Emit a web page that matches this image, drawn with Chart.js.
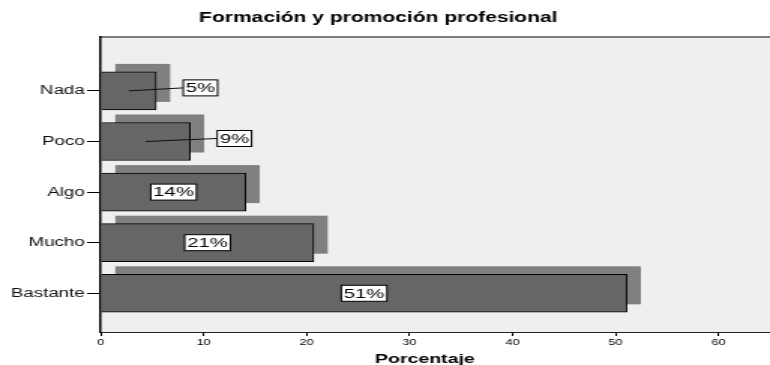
<!DOCTYPE html>
<html>
<head>
<meta charset="utf-8">
<script src="https://cdn.jsdelivr.net/npm/chart.js@4/dist/chart.umd.min.js"></script>
<style>
  html, body { margin: 0; padding: 0; background: #fff; overflow: hidden; }
  /* chart is laid out narrow and stretched sideways, like the exported original */
  #wrap { width: 513px; height: 365px; transform: scaleX(1.501); transform-origin: 0 0; }
</style>
</head>
<body>
<div id="wrap"><canvas id="myChart" width="513" height="365"></canvas></div>
<script>
var categories = ["Nada", "Poco", "Algo", "Mucho", "Bastante"];
var percentages = [5.4, 8.7, 14.1, 20.7, 51.1];
var xTicks = [0, 10, 20, 30, 40, 50, 60];
var chartTitle = "Formación y promoción profesional";
var axisTitle = "Porcentaje";

var FONT = '"Liberation Sans", Arial, Helvetica, sans-serif';
var SHADOW_DX = 9.3, SHADOW_DY = -8;

var panel = {
    id: 'panel',
    beforeDraw: function(chart) {
        var a = chart.chartArea, ctx = chart.ctx;
        ctx.save();
        ctx.fillStyle = '#efefef';
        ctx.fillRect(a.left, a.top, a.right - a.left, a.bottom - a.top);
        ctx.strokeStyle = '#555';
        ctx.lineWidth = 1.5;
        ctx.beginPath();
        ctx.moveTo(a.left, a.top);
        ctx.lineTo(a.right, a.top);
        ctx.stroke();

        ctx.fillStyle = '#000';
        ctx.textAlign = 'center';
        ctx.textBaseline = 'alphabetic';
        ctx.font = 'bold 14px ' + FONT;
        ctx.fillText(chartTitle, chart.width / 2 - 4.5, 22);
        ctx.font = 'bold 13px ' + FONT;
        ctx.fillText(axisTitle, (a.left + a.right) / 2 - 7, 362.5);
        ctx.restore();
    },
    beforeDatasetsDraw: function(chart) {
        // flat offset copy of each bar behind it
        var ctx = chart.ctx;
        ctx.save();
        ctx.fillStyle = '#808080';
        chart.getDatasetMeta(0).data.forEach(function(bar) {
            var p = bar.getProps(['x', 'y', 'base', 'height'], true);
            ctx.fillRect(p.base + SHADOW_DX, p.y - p.height / 2 + SHADOW_DY, p.x - p.base, p.height);
        });
        ctx.restore();
    },
    afterDatasetsDraw: function(chart) {
        var ctx = chart.ctx;
        ctx.save();
        ctx.font = '13.5px ' + FONT;
        ctx.textBaseline = 'middle';
        ctx.textAlign = 'center';
        chart.getDatasetMeta(0).data.forEach(function(bar, i) {
            var p = bar.getProps(['x', 'y', 'base', 'height'], true);
            var text = Math.round(percentages[i]) + '%';
            var w = ctx.measureText(text).width + 3.4, h = 16;
            var mid = (p.base + p.x) / 2;
            var cx = mid, cy = p.y;
            if (percentages[i] < 10) {
                // small bars get the label outside with a leader line
                cx = p.x + 18 + w / 2;
                cy = p.y - 3;
                ctx.strokeStyle = '#111';
                ctx.lineWidth = 1;
                ctx.beginPath();
                ctx.moveTo(mid, p.y);
                ctx.lineTo(cx - w / 2, cy);
                ctx.stroke();
            }
            ctx.fillStyle = '#fff';
            ctx.fillRect(cx - w / 2, cy - h / 2, w, h);
            ctx.strokeStyle = '#000';
            ctx.lineWidth = 1;
            ctx.strokeRect(cx - w / 2, cy - h / 2, w, h);
            ctx.fillStyle = '#000';
            ctx.fillText(text, cx, cy + 0.5);
        });
        ctx.restore();
    }
};

new Chart("myChart", {
    type: "bar",
    data: {
        datasets: [{
            data: percentages.map(function(v, i) { return { x: v, y: i }; }),
            backgroundColor: "#666666",
            borderColor: "#000",
            borderWidth: 1,
            barThickness: 38
        }]
    },
    options: {
        indexAxis: 'y',
        responsive: false,
        animation: false,
        layout: { padding: { top: 37, left: 0, right: 0, bottom: 0 } },
        plugins: {
            legend: { display: false },
            tooltip: { enabled: false }
        },
        scales: {
            x: {
                type: 'linear',
                min: 0,
                max: 65,
                afterBuildTicks: function(axis) {
                    axis.ticks = xTicks.map(function(v) { return { value: v }; });
                },
                afterFit: function(axis) { axis.height = 33; },
                grid: { drawOnChartArea: false, tickLength: 4, color: '#000', lineWidth: 1 },
                border: { color: '#222', width: 1, z: 1 },
                ticks: { color: '#000', padding: 2, maxRotation: 0, font: { family: FONT, size: 8.5 } }
            },
            y: {
                type: 'linear',
                reverse: true,
                offset: false,
                min: -1.065,
                max: 4.765,
                afterBuildTicks: function(axis) {
                    axis.ticks = categories.map(function(c, i) { return { value: i }; });
                },
                afterFit: function(axis) { axis.width = 67; },
                grid: { offset: false, drawOnChartArea: false, tickLength: 9, color: '#000', lineWidth: 1 },
                border: { color: '#000', width: 1.5, z: 1 },
                ticks: {
                    color: '#111',
                    padding: 1.5,
                    font: { family: FONT, size: 12.5 },
                    callback: function(v) { return categories[v]; }
                }
            }
        }
    },
    plugins: [panel]
});
</script>
</body>
</html>
